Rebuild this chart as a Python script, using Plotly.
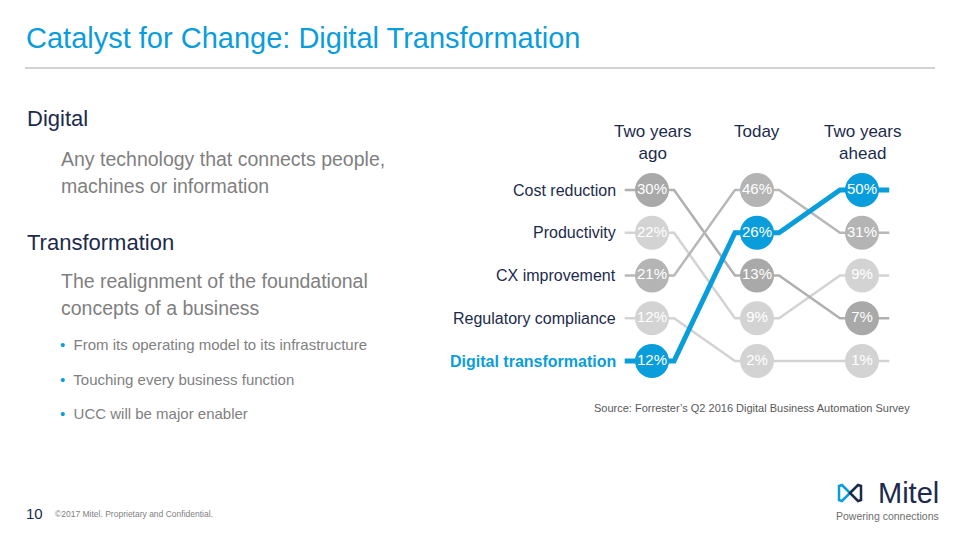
import plotly.graph_objects as go

# ---- data ----
periods = ["Two years<br>ago", "Today", "Two years<br>ahead"]
categories = ["Cost reduction", "Productivity", "CX improvement",
              "Regulatory compliance", "Digital transformation"]
cost_reduction = [30, 13, 7]
productivity = [22, 9, 9]
cx_improvement = [21, 46, 31]
regulatory = [12, 2, 1]
digital = [12, 26, 50]
source_note = "Source: Forrester’s Q2 2016 Digital Business Automation Survey"

series = [cost_reduction, productivity, cx_improvement, regulatory, digital]

# rank of each category in each period (stable sort keeps list order on ties)
ranks = [[0] * len(periods) for _ in categories]
for p in range(len(periods)):
    order = sorted(range(len(categories)), key=lambda i: -series[i][p])
    for r, i in enumerate(order):
        ranks[i][p] = r + 1

BLUE = "#0a9ddc"
NAVY = "#1c2b4c"
GREY_TXT = "#7f7f7f"
FONT = "Liberation Sans, Arial, sans-serif"

circle_col = ["#a9a9a9", "#d3d3d3", "#b4b4b4", "#d3d3d3", BLUE]
line_col = ["#b0b0b0", "#d3d3d3", "#b8b8b8", "#d3d3d3", BLUE]
line_w = [2.5, 2.5, 2.5, 2.5, 5]

STUB = 0.26   # line stub before first / after last node
FLAT = 0.21   # flat half-width of line around each node


def py(pix):
    # slide pixel (from top) -> paper y
    return 1 - pix / 540


fig = go.Figure()

# lines: grey ones first, highlighted series on top
draw_order = [1, 3, 0, 2, 4]
for i in draw_order:
    xs, ys = [], []
    n = len(periods)
    for p in range(n):
        left = p - (STUB if p == 0 else FLAT)
        right = p + (STUB if p == n - 1 else FLAT)
        xs += [left, right]
        ys += [ranks[i][p], ranks[i][p]]
    fig.add_trace(go.Scatter(
        x=xs, y=ys, mode="lines",
        line=dict(color=line_col[i], width=line_w[i]),
        hoverinfo="skip", showlegend=False
    ))

# nodes
for i in draw_order:
    fig.add_trace(go.Scatter(
        x=list(range(len(periods))), y=ranks[i],
        mode="markers+text",
        marker=dict(size=34, color=circle_col[i], line=dict(width=0)),
        text=[f"{v}%" for v in series[i]],
        textposition="middle center",
        textfont=dict(color="white", size=15, family=FONT),
        name=categories[i], showlegend=False
    ))

annotations = []

# row labels (ordered by first-period rank)
for i, cat in enumerate(categories):
    hl = i == len(categories) - 1
    annotations.append(dict(
        x=-STUB, y=ranks[i][0], xref="x", yref="y",
        text=f"<b>{cat}</b>" if hl else cat,
        showarrow=False, xanchor="right", xshift=-7,
        font=dict(size=16, color=BLUE if hl else NAVY, family=FONT)
    ))

# column headers
for p, lab in enumerate(periods):
    annotations.append(dict(
        x=p, y=py(120), xref="x", yref="paper", text=lab,
        showarrow=False, yanchor="top", align="center",
        font=dict(size=17, color=NAVY, family=FONT)
    ))

# source
annotations.append(dict(
    x=912 / 960, y=py(408), xref="paper", yref="paper", text=source_note,
    showarrow=False, xanchor="right", yanchor="middle",
    font=dict(size=11, color="#595959", family=FONT)
))

# slide title
annotations.append(dict(
    x=24 / 960, y=py(38), xref="paper", yref="paper",
    text="Catalyst for Change: Digital Transformation",
    showarrow=False, xanchor="left", yanchor="middle",
    font=dict(size=29, color=BLUE, family=FONT)
))

# left-hand text block
left_text = [
    (25, 119, "Digital", 22, NAVY),
    (59, 159, "Any technology that connects people,", 19.5, GREY_TXT),
    (59, 186, "machines or information", 19.5, GREY_TXT),
    (25, 242, "Transformation", 22, NAVY),
    (59, 281, "The realignment of the foundational", 19.5, GREY_TXT),
    (59, 308, "concepts of a business", 19.5, GREY_TXT),
]
for x, y, t, s, c in left_text:
    annotations.append(dict(
        x=x / 960, y=py(y), xref="paper", yref="paper", text=t,
        showarrow=False, xanchor="left", yanchor="middle",
        font=dict(size=s, color=c, family=FONT)
    ))

bullets = ["From its operating model to its infrastructure",
           "Touching every business function",
           "UCC will be major enabler"]
for b, y in zip(bullets, [344, 379, 413]):
    annotations.append(dict(
        x=58 / 960, y=py(y), xref="paper", yref="paper",
        text=f"<span style='color:{BLUE}'>•</span>  {b}",
        showarrow=False, xanchor="left", yanchor="middle",
        font=dict(size=15, color=GREY_TXT, family=FONT)
    ))

# footer
annotations.append(dict(
    x=24 / 960, y=py(513), xref="paper", yref="paper", text="10",
    showarrow=False, xanchor="left", yanchor="middle",
    font=dict(size=15, color=NAVY, family=FONT)
))
annotations.append(dict(
    x=53 / 960, y=py(514), xref="paper", yref="paper",
    text="©2017 Mitel. Proprietary and Confidential.",
    showarrow=False, xanchor="left", yanchor="middle",
    font=dict(size=8.5, color="#7f7f7f", family=FONT)
))
annotations.append(dict(
    x=941 / 960, y=py(493), xref="paper", yref="paper", text="Mitel",
    showarrow=False, xanchor="right", yanchor="middle",
    font=dict(size=29, color=NAVY, family=FONT)
))
annotations.append(dict(
    x=941 / 960, y=py(516), xref="paper", yref="paper",
    text="Powering connections",
    showarrow=False, xanchor="right", yanchor="middle",
    font=dict(size=10.5, color="#6d6d6d", family=FONT)
))

shapes = [
    dict(type="line", xref="paper", yref="paper",
         x0=25 / 960, x1=935 / 960, y0=py(68), y1=py(68),
         line=dict(color="#a6a6a6", width=1)),
    # logo mark
    dict(type="path", xref="paper", yref="paper",
         path=f"M {850/960},{py(493)} L {842/960},{py(485)} L {839/960},{py(486)} "
              f"L {839/960},{py(500)} L {842/960},{py(501)} Z",
         line=dict(color=BLUE, width=2.5)),
    dict(type="path", xref="paper", yref="paper",
         path=f"M {850/960},{py(493)} L {858/960},{py(485)} L {861/960},{py(486)} "
              f"L {861/960},{py(500)} L {858/960},{py(501)} Z",
         line=dict(color=NAVY, width=2.5)),
]

# axis ranges chosen so period 0 sits at x≈652px, rank 1 at y≈190px
x_dom = (600 / 960, 900 / 960)
px_per_x = 105
x_range = [(600 - 652) / px_per_x, (900 - 652) / px_per_x]
y_dom = (py(400), py(110))
px_per_rank = 42.75
y_range = [1 + (400 - 190) / px_per_rank, 1 + (110 - 190) / px_per_rank]

fig.update_layout(
    width=960, height=540,
    margin=dict(l=0, r=0, t=0, b=0),
    paper_bgcolor="white", plot_bgcolor="white",
    xaxis=dict(domain=list(x_dom), range=x_range, visible=False, fixedrange=True),
    yaxis=dict(domain=list(y_dom), range=y_range, visible=False, fixedrange=True),
    annotations=annotations, shapes=shapes,
    font=dict(family=FONT),
)

fig.write_html("out.html", config={"displayModeBar": False},
               post_script="document.body.style.margin='0';")
